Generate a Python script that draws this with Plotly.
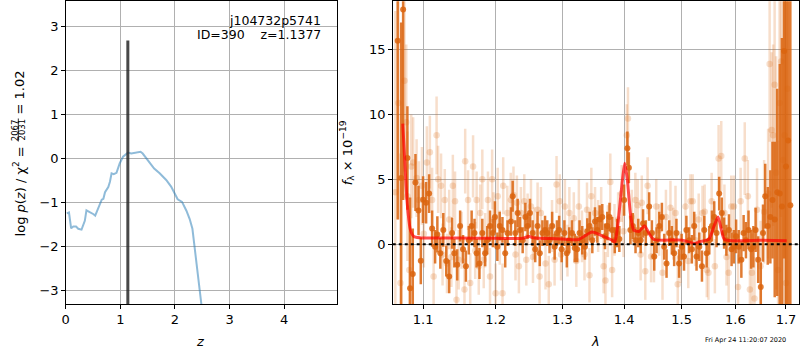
import plotly.graph_objects as go
import math

# ---------------- left panel: redshift PDF ----------------
Z_GRID = [0.02, 0.06, 0.10, 0.14, 0.19, 0.23, 0.29, 0.32, 0.35, 0.38,
          0.43, 0.51, 0.54, 0.60, 0.66, 0.69, 0.72, 0.78, 0.81, 0.84,
          0.88, 0.93, 0.99, 1.05, 1.14, 1.20, 1.26, 1.37, 1.41, 1.53,
          1.62, 1.72, 1.84, 1.93, 1.99, 2.05, 2.13, 2.21, 2.27, 2.32,
          2.36, 2.40, 2.45, 2.49]
LOG_PZ = [-1.25, -1.23, -1.59, -1.55, -1.55, -1.60, -1.62, -1.50, -1.42, -1.18,
          -1.21, -1.27, -1.30, -1.11, -0.94, -0.92, -0.77, -0.65, -0.53, -0.34,
          -0.36, -0.33, -0.11, 0.04, 0.13, 0.11, 0.13, 0.15, 0.11, -0.08,
          -0.23, -0.34, -0.49, -0.64, -0.80, -0.93, -0.99, -1.19, -1.38, -1.60,
          -2.02, -2.47, -3.00, -3.38]
Z_BEST = 1.1377
Z_BEST_TOP = 2.68
Z_TICKS = [0, 1, 2, 3, 4]
LOGP_TICKS = [-3, -2, -1, 0, 1, 2, 3]

# ---------------- right panel: spectrum ----------------
MODEL_WAVE = [1.0735, 1.0761, 1.0778, 1.0804, 1.0834, 1.0878, 1.095, 1.15, 1.2, 1.24,
              1.2488, 1.255, 1.29, 1.3257, 1.3472, 1.36, 1.3801, 1.3845, 1.3883, 1.3921,
              1.3966, 1.4010, 1.4055, 1.4105, 1.4161, 1.4249, 1.4351, 1.4421, 1.4506, 1.5008,
              1.5249, 1.531, 1.5496, 1.5590, 1.5670, 1.5733, 1.5793, 1.65, 1.7015]
MODEL_FLUX = [9.3, 6.5, 4.5, 2.4, 1.1, 0.59, 0.5, 0.47, 0.45, 0.45,
              0.6, 0.5, 0.42, 0.36, 0.93, 0.72, 0.3, 0.17, 1.1, 2.64,
              4.7, 6.24, 4.95, 2.4, 1.1, 0.98, 1.41, 0.85, 0.36, 0.31,
              0.05, 0.18, 0.36, 1.34, 2.09, 1.1, 0.36, 0.3, 0.26]

DARK_WAVE = [1.067, 1.0715, 1.074, 1.0795, 1.083, 1.0865, 1.090, 1.094, 1.097, 1.100,
             1.104, 1.108, 1.112, 1.116, 1.119, 1.123, 1.127, 1.131, 1.135, 1.139,
             1.142, 1.146, 1.150, 1.154, 1.158, 1.162, 1.166, 1.170, 1.173, 1.177,
             1.181, 1.185, 1.188, 1.192, 1.196, 1.199,
             1.2025, 1.2059, 1.2099, 1.2139, 1.2173, 1.2223, 1.2248, 1.2287, 1.2322, 1.2356,
             1.2396, 1.2436, 1.2470, 1.2505, 1.2545, 1.2584, 1.2619, 1.2653, 1.2693, 1.2733,
             1.2767, 1.2802, 1.2842, 1.2881, 1.2916, 1.2950, 1.2990,
             1.3032, 1.3070, 1.3108, 1.3151, 1.3195, 1.3233, 1.3271, 1.3314, 1.3357, 1.3395,
             1.3433, 1.3476, 1.3519, 1.3557, 1.3595, 1.3638, 1.3682, 1.3720, 1.3757, 1.3801,
             1.3844, 1.3882, 1.3920, 1.4000, 1.4055, 1.4080,
             1.4105, 1.4146, 1.4193, 1.4240, 1.4281, 1.4322, 1.4369, 1.4427, 1.4474, 1.4515,
             1.4556, 1.4603, 1.4649, 1.4690, 1.4731, 1.4778, 1.4825, 1.4866, 1.4907, 1.4954,
             1.5000,
             1.5043, 1.5086, 1.5136, 1.5185, 1.5228, 1.5271, 1.5321, 1.5370, 1.5413, 1.5457,
             1.5506, 1.5555, 1.5598, 1.5642, 1.5691, 1.5740, 1.5784, 1.5827, 1.5876, 1.5926,
             1.5969,
             1.6013, 1.6063, 1.6114, 1.6158, 1.6203, 1.6253, 1.6304, 1.6348, 1.6392, 1.6443,
             1.6494, 1.6538, 1.6582, 1.6633, 1.6684, 1.6728, 1.6772, 1.6823, 1.6873, 1.6918,
             1.6962, 1.7000, 1.7044, 1.7089]
DARK_FLUX = [15.7, 5.1, 18.1, 6.65, -3.4, -2.3, 4.76, 2.6, -1.29, 3.43,
             3.2, 3.9, 1.2, -0.2, 0.75, -0.7, 1.1, -1.3, -2.5, 0.85,
             -0.7, -1.6, 1.4, -0.4, -1.7, 0.3, 1.4, 0.85, -0.7, -1.5,
             0.85, -0.7, 0.3, 1.4, 0.85, 2.1,
             -0.2, 1.4, 1.1, -0.7, 0.85, 1.75, 3.7, 0.85, 2.4, 1.1,
             0.3, 2.1, 1.4, 2.4, 0.85, -0.4, 1.4, -0.7, 0.85, 1.1,
             0.85, 0.3, 1.4, -0.2, 0.85, 1.1, -0.4,
             0.85, -0.7, 0.3, 0.85, -0.3, -0.4, 0.85, 0.3, -0.2, 1.0,
             1.4, 0.3, 1.75, 1.1, 1.9, 2.1, 0.6, 1.4, 2.1, 1.1,
             0.3, 0.85, 0.4, 3.4, 7.4, 5.9,
             1.1, 1.4, 0.3, 0.85, 0.3, 1.6, 0.85, 2.9, 0.85, -0.95,
             0.3, 1.4, 2.1, -0.2, -1.5, 0.85, 0.3, -0.7, 0.85, -1.5,
             -0.2,
             -0.95, 1.1, 0.3, -0.4, 1.4, -0.95, -0.2, -1.7, 1.1, -0.7,
             0.3, 1.4, 2.1, 0.85, 3.9, 2.4, 0.85, 0.3, 1.1, -0.4,
             -0.2,
             0.6, -0.2, -1.2, 0.85, 0.3, 1.1, -0.4, -0.2, 1.1, -1.2,
             -3.3, 0.85, 3.7, 1.4, 2.1, 3.4, 1.9, 4.0, 3.9, 2.9,
             14.9, 6.0, 8.0, 3.0]
DARK_ERR = [13.8, 12.0, 14.7, 4.0, 7.0, 3.5, 2.2, 1.9, 1.8, 1.8,
            1.6, 1.5, 1.4, 1.3, 1.4, 1.2, 1.3, 1.2, 1.3, 1.2,
            1.1, 1.2, 1.2, 1.1, 1.2, 1.1, 1.2, 1.1, 1.1, 1.2,
            1.1, 1.0, 1.1, 1.2, 1.1, 1.2,
            1.1, 1.1, 1.0, 1.1, 1.0, 1.1, 1.2, 1.0, 1.1, 1.0,
            1.0, 1.1, 1.0, 1.1, 1.0, 1.0, 1.1, 1.0, 1.0, 1.1,
            1.0, 1.0, 1.1, 1.0, 1.0, 1.1, 1.0,
            1.0, 1.1, 1.0, 1.0, 1.1, 1.0, 1.0, 1.1, 1.0, 1.0,
            1.1, 1.0, 1.1, 1.0, 1.1, 1.0, 1.0, 1.1, 1.1, 1.0,
            1.0, 1.1, 1.0, 1.2, 1.3, 1.2,
            1.1, 1.0, 1.0, 1.1, 1.0, 1.1, 1.0, 1.1, 1.0, 1.1,
            1.0, 1.1, 1.1, 1.0, 1.1, 1.0, 1.1, 1.0, 1.1, 1.1,
            1.0,
            1.1, 1.1, 1.0, 1.1, 1.1, 1.1, 1.1, 1.2, 1.1, 1.1,
            1.1, 1.2, 1.2, 1.1, 1.3, 1.2, 1.2, 1.2, 1.2, 1.3,
            1.3,
            1.3, 1.3, 1.4, 1.4, 1.4, 1.5, 1.5, 1.6, 1.7, 1.8,
            1.9, 2.2, 2.5, 3.0, 3.6, 4.5, 6.0, 8.0, 10.0, 13.0,
            16.0, 20.0, 24.0, 30.0]

LIGHT_WAVE = [1.064, 1.068, 1.0705, 1.0757, 1.078, 1.0795, 1.082, 1.0845, 1.087, 1.0915,
              1.0945, 1.0985, 1.101, 1.105, 1.109, 1.112, 1.114, 1.118, 1.120, 1.124,
              1.126, 1.129, 1.132, 1.135, 1.138, 1.140, 1.143, 1.145, 1.148, 1.152,
              1.156, 1.157, 1.161, 1.164, 1.168, 1.171, 1.173, 1.176, 1.178, 1.181,
              1.183, 1.185, 1.189, 1.192, 1.195, 1.197, 1.200, 1.203, 1.206, 1.210,
              1.211, 1.217, 1.222, 1.226, 1.229, 1.231, 1.234, 1.237, 1.242, 1.245,
              1.247, 1.252, 1.255, 1.257, 1.262, 1.265, 1.267, 1.274, 1.279, 1.284,
              1.288, 1.291, 1.296, 1.298, 1.304, 1.308, 1.311, 1.318, 1.322, 1.326,
              1.331, 1.335, 1.339, 1.343, 1.346, 1.352, 1.357, 1.362, 1.366, 1.369,
              1.373, 1.377, 1.380, 1.384, 1.390, 1.396, 1.399, 1.4045, 1.4065, 1.413,
              1.419, 1.423, 1.428, 1.430, 1.436, 1.440, 1.446, 1.451, 1.455, 1.460,
              1.466, 1.472, 1.480, 1.485, 1.489, 1.493, 1.498, 1.507, 1.512, 1.516,
              1.520, 1.525, 1.531, 1.538, 1.542, 1.546, 1.549, 1.555, 1.561, 1.568,
              1.573, 1.579, 1.583, 1.587, 1.592, 1.597, 1.605, 1.610, 1.618, 1.624,
              1.628, 1.632, 1.637, 1.642, 1.649, 1.656, 1.664, 1.667, 1.671, 1.674,
              1.677, 1.680, 1.684, 1.687, 1.690, 1.694, 1.697, 1.700, 1.703]
LIGHT_FLUX = [4.0, 10.9, -3.0, 12.6, 9.4, 3.7, -2.0, 6.0, 6.3, 5.1,
              3.4, 4.5, 0.8, 6.3, 7.1, 3.4, -2.5, 8.4, 5.0, 4.5,
              -0.8, 3.4, -1.5, 1.9, -1.0, 4.5, 3.3, -4.3, -1.2, 0.3,
              -3.5, 6.4, 3.4, -3.0, 6.0, -0.5, 3.4, -1.7, 2.4, 5.0,
              -1.2, 0.3, 3.4, -2.5, 5.0, 1.9, -3.8, 3.7, 0.5, -3.8,
              4.5, 2.4, 3.4, 3.8, -0.8, 3.2, -1.7, 2.4, 3.3, -1.2,
              1.9, 2.9, -1.0, 0.85, 2.65, -2.5, 2.4, -1.5, -3.1, 1.4,
              -1.2, 4.6, 3.3, -0.8, 2.9, -0.5, 2.4, 2.0, -1.3, 2.9,
              0.6, -0.8, 2.65, -2.4, 3.7, 2.4, 1.4, 2.4, -1.7, -2.8,
              1.0, 4.8, -2.0, 1.1, 1.9, 3.9, 1.0, 8.4, 9.7, 2.1,
              3.4, 3.0, -0.8, 3.2, -2.1, 4.5, -0.95, -0.95, 2.9, 1.1,
              -2.2, 2.1, 2.8, 0.8, 2.4, -3.1, -1.0, 2.9, -1.3, 3.3,
              3.3, 0.3, 1.9, 2.4, 2.5, -2.0, -2.2, 3.3, -1.7, 6.6,
              6.8, 2.4, -1.0, -2.2, 2.9, 2.9, -3.3, 3.3, 6.6, 3.7,
              -3.5, -2.2, -4.2, 2.65, -1.7, 2.5, 3.9, 13.9, 8.8, 8.4,
              12.3, 5.5, -2.0, 10.9, 14.1, 6.5, 8.4, -3.0, 12.0]
LIGHT_ERR = [14.0, 9.0, 10.0, 7.0, 6.0, 5.0, 5.0, 4.0, 3.5, 3.0,
             3.0, 3.0, 2.6, 2.8, 2.8, 2.5, 2.5, 3.0, 2.6, 2.5,
             2.4, 2.4, 2.3, 2.3, 2.3, 2.4, 2.3, 2.5, 2.3, 2.2,
             2.4, 2.5, 2.3, 2.3, 2.4, 2.2, 2.2, 2.2, 2.2, 2.3,
             2.2, 2.1, 2.2, 2.2, 2.3, 2.1, 2.3, 2.2, 2.1, 2.3,
             2.2, 2.1, 2.1, 2.2, 2.0, 2.1, 2.1, 2.0, 2.1, 2.0,
             2.0, 2.1, 2.0, 2.0, 2.1, 2.1, 2.0, 2.0, 2.2, 2.0,
             2.0, 2.2, 2.1, 2.0, 2.1, 2.0, 2.0, 2.0, 2.0, 2.1,
             2.0, 2.0, 2.1, 2.1, 2.2, 2.0, 2.0, 2.0, 2.1, 2.2,
             2.0, 2.2, 2.1, 2.0, 2.1, 2.2, 2.0, 2.4, 2.4, 2.1,
             2.1, 2.0, 2.0, 2.1, 2.2, 2.2, 2.0, 2.0, 2.1, 2.0,
             2.1, 2.1, 2.1, 2.0, 2.1, 2.2, 2.0, 2.1, 2.1, 2.1,
             2.1, 2.0, 2.0, 2.1, 2.1, 2.1, 2.1, 2.2, 2.1, 2.6,
             2.7, 2.2, 2.2, 2.3, 2.4, 2.4, 2.5, 2.6, 2.8, 2.8,
             2.9, 3.0, 3.2, 3.2, 3.5, 4.0, 5.0, 6.0, 6.0, 7.0,
             8.0, 9.0, 10.0, 11.0, 12.0, 14.0, 15.0, 18.0, 20.0]

WAVE_TICKS = [1.1, 1.2, 1.3, 1.4, 1.5, 1.6, 1.7]
FLUX_TICKS = [0, 5, 10, 15]

for a, b, c in [(DARK_WAVE, DARK_FLUX, DARK_ERR), (LIGHT_WAVE, LIGHT_FLUX, LIGHT_ERR)]:
    n = min(len(a), len(b), len(c))
    del a[n:], b[n:], c[n:]

FONT = "DejaVu Sans"
FS = 13          # tick labels / axis titles
FT = 12.5        # in-axes text
W, H = 800, 350
ORANGE_DARK = "rgba(218,100,14,0.85)"
ORANGE_LIGHT = "rgba(220,105,20,0.22)"

def px(x):
    return x / W

def py(y):
    return (H - y) / H

fig = go.Figure()

# left panel
fig.add_trace(go.Scatter(x=Z_GRID, y=LOG_PZ, mode="lines",
                         line=dict(color="rgba(31,119,180,0.5)", width=2),
                         xaxis="x", yaxis="y", showlegend=False, hoverinfo="skip"))
fig.add_trace(go.Scatter(x=[Z_BEST, Z_BEST], y=[-3.31, Z_BEST_TOP], mode="lines",
                         line=dict(color="rgba(40,40,40,0.85)", width=3),
                         xaxis="x", yaxis="y", showlegend=False, hoverinfo="skip"))

# right panel
fig.add_trace(go.Scatter(x=LIGHT_WAVE, y=LIGHT_FLUX, mode="markers",
                         marker=dict(color=ORANGE_LIGHT, size=6.5, line=dict(width=0)),
                         error_y=dict(type="data", array=LIGHT_ERR, color=ORANGE_LIGHT,
                                      thickness=2.5, width=0),
                         xaxis="x2", yaxis="y2", showlegend=False, hoverinfo="skip"))
fig.add_trace(go.Scatter(x=DARK_WAVE, y=DARK_FLUX, mode="markers",
                         marker=dict(color=ORANGE_DARK, size=6, line=dict(width=0)),
                         error_y=dict(type="data", array=DARK_ERR, color=ORANGE_DARK,
                                      thickness=2.5, width=0),
                         xaxis="x2", yaxis="y2", showlegend=False, hoverinfo="skip"))
fig.add_trace(go.Scatter(x=MODEL_WAVE, y=MODEL_FLUX, mode="lines",
                         line=dict(color="rgba(255,0,0,0.7)", width=3, shape="spline", smoothing=0.6),
                         xaxis="x2", yaxis="y2", showlegend=False, hoverinfo="skip"))

axis_common = dict(showgrid=True, gridcolor="#b0b0b0", gridwidth=1,
                   showline=True, linecolor="black", linewidth=1, mirror=True,
                   ticks="outside", ticklen=3.5, tickwidth=1, tickcolor="black",
                   zeroline=False, tickfont=dict(family=FONT, size=FS, color="black"))

fig.update_layout(
    width=W, height=H,
    margin=dict(l=0, r=0, t=0, b=0),
    paper_bgcolor="white", plot_bgcolor="white",
    font=dict(family=FONT, size=FS, color="black"),
    xaxis=dict(domain=[62 / W, 334.3 / W], range=[0, 4.96], tickvals=Z_TICKS,
               anchor="y", **axis_common),
    yaxis=dict(domain=[py(304), py(1.3)], range=[-3.31, 3.57], tickvals=LOGP_TICKS,
               anchor="x", **axis_common),
    xaxis2=dict(domain=[390.7 / W, 799.3 / W], type="log",
                range=[math.log10(1.0607), math.log10(1.7274)],
                tickvals=WAVE_TICKS, ticktext=[f"{v:.1f}" for v in WAVE_TICKS],
                anchor="y2", **axis_common),
    yaxis2=dict(domain=[py(304), py(1.3)], range=[-4.62, 18.74], tickvals=FLUX_TICKS,
                anchor="x2", **axis_common),
)

# zero line (dotted)
fig.add_shape(type="line", xref="x2 domain", yref="y2", x0=0, x1=1, y0=0, y1=0,
              line=dict(color="black", width=2, dash="dot"), layer="above")

ann = []
ann.append(dict(text="j104732p5741", x=px(320.5), y=py(20), xanchor="right", yanchor="middle",
                font=dict(size=FT)))
ann.append(dict(text="ID=390\u00a0\u00a0\u00a0\u00a0z=1.1377", x=px(320.5), y=py(35),
                xanchor="right", yanchor="middle", font=dict(size=FT)))
ann.append(dict(text="<i>z</i>", x=px(197), y=py(341), xanchor="center", yanchor="middle",
                font=dict(size=FS)))
ann.append(dict(text="<i>λ</i>", x=px(594), y=py(341), xanchor="center", yanchor="middle",
                font=dict(size=FS)))
ann.append(dict(text="Fri Apr 24 11:20:07 2020", x=px(745), y=py(339.5), xanchor="center",
                yanchor="middle", font=dict(size=6.5)))
# left y title pieces
ann.append(dict(text="log <i>p</i>(<i>z</i>) / χ<sup>2</sup> =", x=px(15.5), y=py(191),
                textangle=-90, xanchor="center", yanchor="middle", font=dict(size=FS)))
ann.append(dict(text="2067", x=px(11.3), y=py(130), textangle=-90, xanchor="center",
                yanchor="middle", font=dict(size=8.5)))
ann.append(dict(text="2031", x=px(17.6), y=py(130), textangle=-90, xanchor="center",
                yanchor="middle", font=dict(size=8.5)))
ann.append(dict(text="= 1.02", x=px(15.5), y=py(92), textangle=-90, xanchor="center",
                yanchor="middle", font=dict(size=FS)))
# right y title
ann.append(dict(text="<i>f</i><sub>λ</sub> × 10<sup>−19</sup>", x=px(345), y=py(153),
                textangle=-90, xanchor="center", yanchor="middle", font=dict(size=FS)))
for a in ann:
    a.update(xref="paper", yref="paper", showarrow=False)
    a["font"].update(family=FONT, color="black")
fig.update_layout(annotations=ann)

# fraction bar in left y title
fig.add_shape(type="line", xref="paper", yref="paper", x0=px(14.4), x1=px(14.4),
              y0=py(118.5), y1=py(141.5), line=dict(color="black", width=0.8))

fig.write_html("out.html", config={"displayModeBar": False},
               post_script="document.body.style.margin='0px';")
